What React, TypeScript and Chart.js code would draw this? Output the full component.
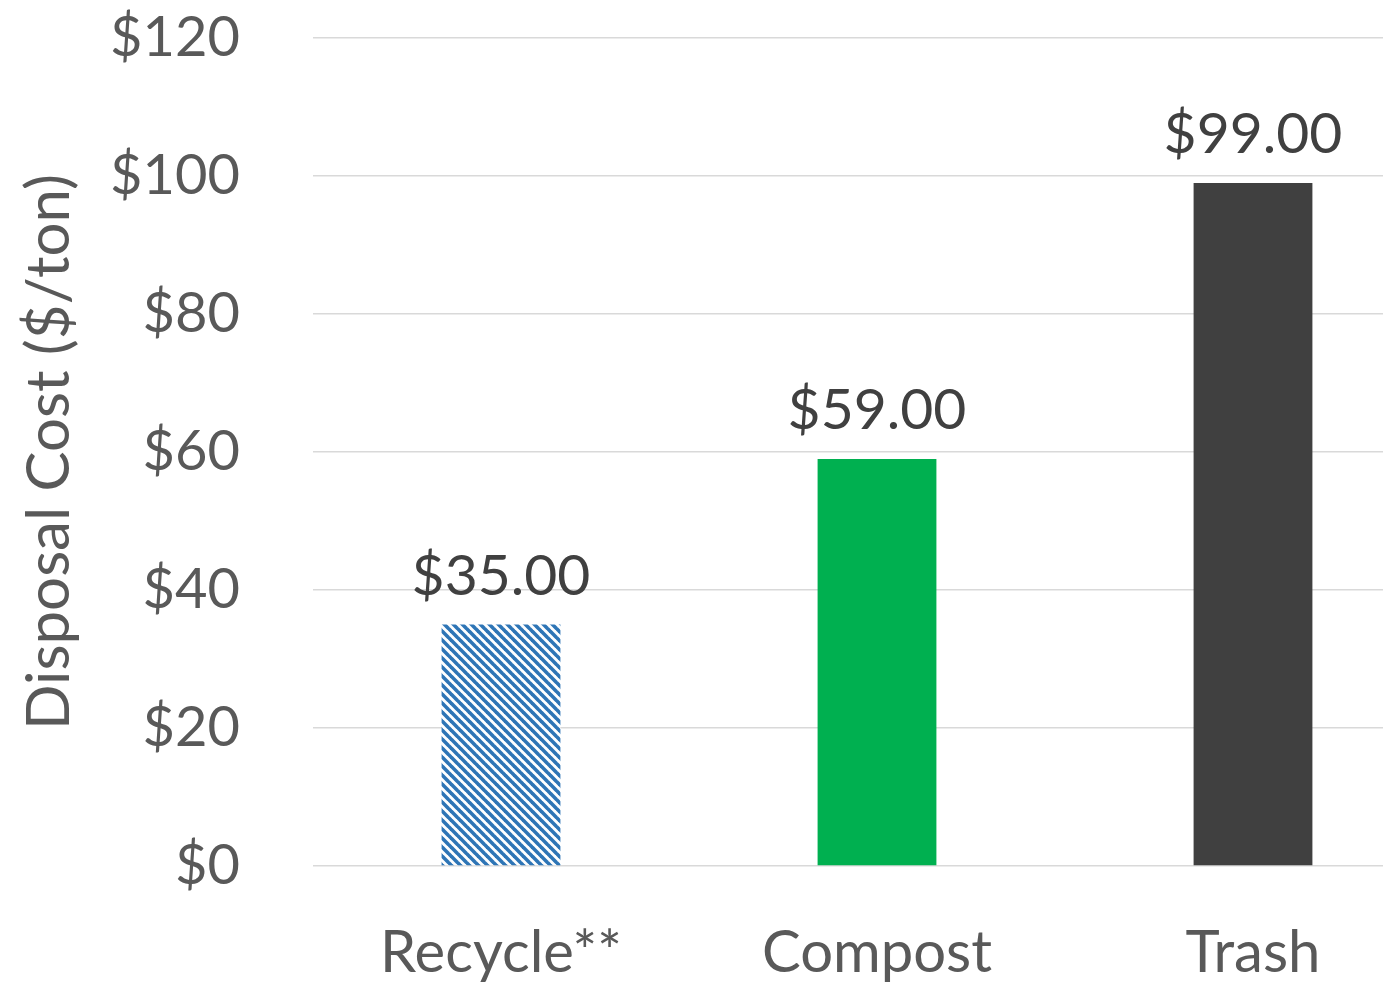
import React, { useEffect, useRef } from "react";
import { Chart, registerables } from "chart.js";

Chart.register(...registerables);

const categories = ["Recycle**", "Compost", "Trash"];
const costs = [35, 59, 99];
const yTicks = [0, 20, 40, 60, 80, 100, 120];

const FONT = "Lato";
const TEXT = "#595959";

function makeHatch(): CanvasPattern | string {
  const s = 9;
  const c = document.createElement("canvas");
  c.width = s;
  c.height = s;
  const ctx = c.getContext("2d");
  if (!ctx) return "#2E75B6";
  ctx.fillStyle = "#ffffff";
  ctx.fillRect(0, 0, s, s);
  ctx.strokeStyle = "#2E75B6";
  ctx.lineWidth = 3.6;
  for (const x0 of [-s, 0, s]) {
    ctx.beginPath();
    ctx.moveTo(x0 - 1, -1);
    ctx.lineTo(x0 + s + 1, s + 1);
    ctx.stroke();
  }
  const p = ctx.createPattern(c, "repeat");
  return p || "#2E75B6";
}

const valueLabels = {
  id: "valueLabels",
  afterDatasetsDraw(chart: any) {
    const ctx = chart.ctx;
    const meta = chart.getDatasetMeta(0);
    ctx.save();
    ctx.font = `57px ${FONT}`;
    ctx.fillStyle = "#404040";
    ctx.textAlign = "center";
    ctx.textBaseline = "alphabetic";
    meta.data.forEach((el: any, i: number) => {
      const v = chart.data.datasets[0].data[i] as number;
      ctx.fillText("$" + v.toFixed(2), el.x, el.y - 30);
    });
    ctx.restore();
  },
};

export default function App() {
  const ref = useRef<HTMLCanvasElement>(null);
  useEffect(() => {
    document.body.style.margin = "0";
    document.body.style.overflow = "hidden";
    const canvas = ref.current!;
    const chart = new Chart(canvas, {
      type: "bar",
      data: {
        labels: categories,
        datasets: [
          {
            data: costs,
            backgroundColor: [makeHatch(), "#00B050", "#404040"],
            borderWidth: 0,
            barPercentage: 0.316,
            categoryPercentage: 1,
          },
        ],
      },
      options: {
        responsive: false,
        animation: false,
        layout: { padding: { top: 38, right: 0, left: 0, bottom: 0 } },
        plugins: {
          legend: { display: false },
          tooltip: { enabled: false },
        },
        scales: {
          x: {
            grid: { display: false },
            border: { display: false },
            ticks: {
              color: TEXT,
              font: { family: FONT, size: 58 },
              padding: 44,
            },
            afterFit: (s: any) => {
              s.height = 116;
              s.paddingLeft = 0;
              s.paddingRight = 0;
            },
          },
          y: {
            min: 0,
            max: 120,
            afterBuildTicks: (s: any) => {
              s.ticks = yTicks.map((v) => ({ value: v }));
            },
            grid: { color: "#D9D9D9", lineWidth: 1.5, drawTicks: false },
            border: { display: false },
            ticks: {
              color: TEXT,
              font: { family: FONT, size: 56 },
              padding: 73,
              callback: (v: any) => "$" + v,
            },
            title: {
              display: true,
              text: "Disposal Cost ($/ton)",
              color: TEXT,
              font: { family: FONT, size: 60 },
              padding: { top: 14, bottom: 0 },
            },
            afterFit: (s: any) => {
              s.width = 313;
              s.paddingTop = 0;
              s.paddingBottom = 0;
            },
          },
        },
      },
      plugins: [valueLabels],
    });
    return () => chart.destroy();
  }, []);
  return (
    <div style={{ position: "absolute", left: 0, top: 0, width: 1383, height: 982, overflow: "hidden", background: "#fff" }}>
      <canvas ref={ref} width={1441} height={982} style={{ display: "block" }} />
    </div>
  );
}
